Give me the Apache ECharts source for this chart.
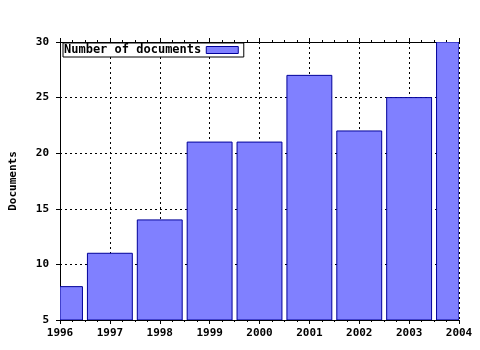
<!DOCTYPE html>
<html><head><meta charset="utf-8">
<script src="https://cdn.jsdelivr.net/npm/echarts@6/dist/echarts.min.js"></script>
<style>html,body{margin:0;padding:0;background:#fff}#c{width:480px;height:350px}</style>
</head><body><div id="c"></div>
<script>
var years = [1996, 1997, 1998, 1999, 2000, 2001, 2002, 2003, 2004];
var documents = [8, 11, 14, 21, 21, 27, 22, 25, 30];
var seriesName = 'Number of documents';
var yAxisName = 'Documents';

var font = 'DejaVu Sans Mono';
var chart = echarts.init(document.getElementById('c'), null, {renderer: 'canvas'});
var data = years.map(function (y, i) { return [y, documents[i]]; });

function renderBar(params, api) {
  var x = api.value(0), v = api.value(1);
  var top = api.coord([x, v]);
  var base = api.coord([x, 5]);
  var w = api.size([1, 0])[0] * 0.9;
  var cs = params.coordSys;
  var rect = echarts.graphic.clipRectByRect(
    {x: top[0] - w / 2, y: top[1], width: w, height: base[1] - top[1]},
    {x: cs.x, y: cs.y, width: cs.width, height: cs.height}
  );
  if (!rect) return null;
  return {
    type: 'rect', shape: rect,
    style: {fill: '#8080ff', stroke: '#000099', lineWidth: 1}
  };
}

chart.setOption({
  animation: false,
  backgroundColor: '#fff',
  grid: {left: 57, right: 21, top: 42, bottom: 30},
  legend: {
    show: true, left: 63, top: 43, align: 'right',
    itemWidth: 32, itemHeight: 7, itemGap: 0,
    padding: [1, 5, 1, 1],
    backgroundColor: '#fff',
    borderColor: '#000', borderWidth: 1, borderRadius: 0,
    textStyle: {fontFamily: font, fontWeight: 'bold', fontSize: 12, color: '#000'},
    data: [{name: seriesName, icon: 'rect', itemStyle: {color: '#8080ff', borderColor: '#000099', borderWidth: 1}}]
  },
  xAxis: [{
    type: 'value', min: 1996, max: 2004, interval: 1, position: 'bottom',
    axisLine: {show: true, onZero: false, lineStyle: {color: '#000', width: 1}},
    axisTick: {show: true, length: 4, lineStyle: {color: '#000'}},
    minorTick: {show: true, splitNumber: 4, length: 2, lineStyle: {color: '#000'}},
    axisLabel: {margin: 8, fontFamily: font, fontWeight: 'bold', fontSize: 11, color: '#000', formatter: function (v) { return String(v); }},
    splitLine: {show: true, lineStyle: {color: '#000', type: [2, 3], width: 1}}
  }, {
    type: 'value', min: 1996, max: 2004, interval: 1, position: 'top',
    axisLine: {show: true, onZero: false, lineStyle: {color: '#000', width: 1}},
    axisTick: {show: true, length: 4, lineStyle: {color: '#000'}},
    minorTick: {show: true, splitNumber: 4, length: 2, lineStyle: {color: '#000'}},
    axisLabel: {show: false},
    splitLine: {show: false}
  }],
  yAxis: {
    type: 'value', min: 5, max: 30, interval: 5,
    name: yAxisName, nameLocation: 'middle', nameRotate: 90, nameGap: 41,
    nameTextStyle: {fontFamily: font, fontWeight: 'bold', fontSize: 11, color: '#000'},
    axisLine: {show: true, onZero: false, lineStyle: {color: '#000', width: 1}},
    axisTick: {show: true, length: 4, lineStyle: {color: '#000'}},
    axisLabel: {margin: 11, fontFamily: font, fontWeight: 'bold', fontSize: 11, color: '#000'},
    splitLine: {show: true, lineStyle: {color: '#000', type: [2, 3], width: 1}}
  },
  series: [{
    name: seriesName, type: 'custom', xAxisIndex: 0, data: data,
    renderItem: renderBar, clip: true,
    encode: {x: 0, y: 1},
    itemStyle: {color: '#8080ff', borderColor: '#000099', borderWidth: 1}
  }]
});
</script></body></html>
